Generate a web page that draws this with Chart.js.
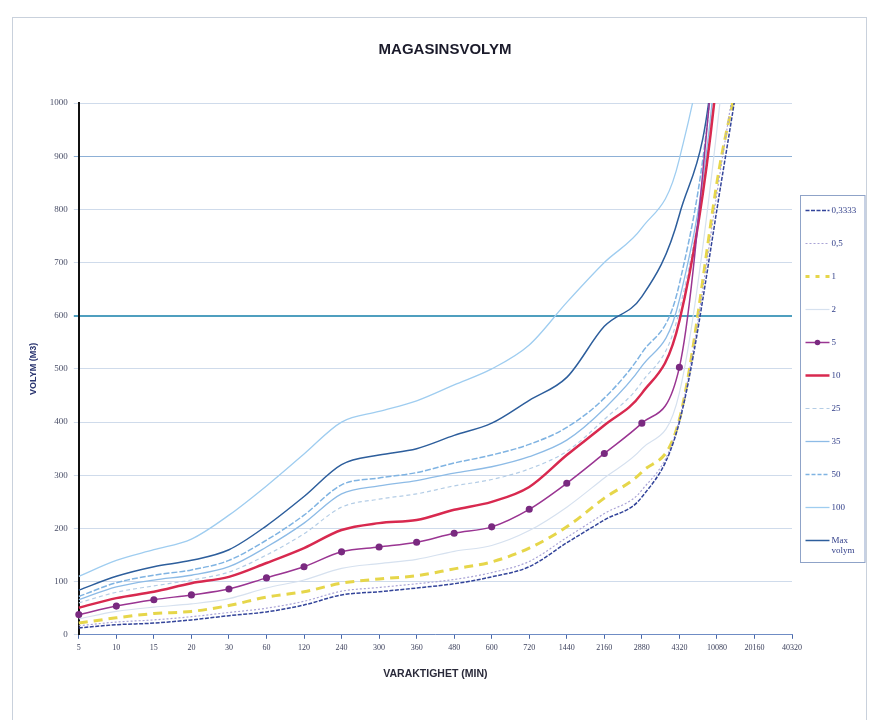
<!DOCTYPE html>
<html>
<head>
<meta charset="utf-8">
<script src="https://cdn.jsdelivr.net/npm/chart.js@4.4.1/dist/chart.umd.min.js"></script>
<style>
  html, body { margin: 0; padding: 0; background: #ffffff; }
  canvas { display: block; }
</style>
</head>
<body>
<canvas id="chart" width="872" height="720"></canvas>
<script>
// Duration categories (minutes)
const durations = ['5','10','15','20','30','60','120','240','300','360','480','600','720','1440','2160','2880','4320','10080','20160','40320'];

// Required storage volume (m3) per return period
const vol_0_3333 = [13,19,22,28,36,43,56,75,81,88,96,109,128,173,216,259,400,800,1300,2200];
const vol_0_5    = [17,24,28,34,42,50,63,82,89,96,104,117,138,183,228,272,405,830,1350,2300];
const vol_1      = [22,32,40,44,55,71,81,97,105,111,124,137,163,203,257,306,405,850,1300,2500];
const vol_2      = [30,44,52,58,68,88,103,125,134,142,157,168,196,240,295,350,455,950,1700,2800];
const vol_5      = [38,54,66,75,86,107,128,156,165,174,191,203,236,285,341,398,503,1150,1900,3000];
const vol_10     = [51,69,81,97,109,135,163,197,210,216,235,250,278,338,394,454,590,1050,2000,3200];
const vol_25     = [60,80,92,103,118,150,190,240,255,265,280,292,312,345,405,475,610,1080,2200,3400];
const vol_35     = [66,90,103,112,128,165,210,265,280,290,304,316,335,366,425,505,630,1100,2300,3500];
const vol_50     = [72,98,112,122,140,178,225,282,295,305,323,338,358,390,445,530,660,1150,2400,3600];
const vol_100    = [110,140,160,180,225,280,340,400,420,440,470,500,545,625,700,765,895,1350,2600,4000];
const vol_max    = [84,110,128,140,160,205,260,320,338,350,375,398,441,484,580,636,790,1150,2500,3800];

const seriesLabels = ['0,3333','0,5','1','2','5','10','25','35','50','100','Max volym'];

function line(label, data, color, width, dash, extra) {
  return Object.assign({
    label: label,
    data: data,
    borderColor: color,
    backgroundColor: color,
    borderWidth: width,
    borderDash: dash,
    pointRadius: 0,
    fill: false,
    cubicInterpolationMode: 'monotone'
  }, extra || {});
}

const datasets = [
  line(seriesLabels[0], vol_0_3333, '#33449a', 1.5, [4, 1.5]),
  line(seriesLabels[1], vol_0_5,    '#a9a3d6', 1.2, [2, 2]),
  line(seriesLabels[2], vol_1,      '#e6d64a', 3,   [9, 6]),
  line(seriesLabels[3], vol_2,      '#d6e1ef', 1.2, []),
  line(seriesLabels[4], vol_5,      '#9a3592', 1.5, [], { pointRadius: 2.8, pointStyle: 'circle', pointBackgroundColor: '#7a2a80', pointBorderColor: '#7a2a80' }),
  line(seriesLabels[5], vol_10,     '#d8294f', 2.5, []),
  line(seriesLabels[6], vol_25,     '#b4cde6', 1.2, [4, 3]),
  line(seriesLabels[7], vol_35,     '#8dbbe6', 1.3, []),
  line(seriesLabels[8], vol_50,     '#7fb3e2', 1.5, [6, 2]),
  line(seriesLabels[9], vol_100,    '#9fcdf0', 1.3, []),
  line(seriesLabels[10], vol_max,   '#2d5e9c', 1.5, [])
];

// White page with a thin outer frame
const framePlugin = {
  id: 'frame',
  beforeDraw(chart) {
    const ctx = chart.ctx;
    ctx.save();
    ctx.fillStyle = '#ffffff';
    ctx.fillRect(0, 0, chart.width, chart.height);
    ctx.strokeStyle = '#c9d1dc';
    ctx.lineWidth = 1;
    ctx.strokeRect(12.5, 17.5, 854, 720);
    ctx.restore();
  }
};

// Boxed legend to the right of the plot, one row per series
const sideLegendPlugin = {
  id: 'sideLegend',
  afterDraw(chart) {
    const ctx = chart.ctx;
    const area = chart.chartArea;
    const boxLeft = Math.round(area.right) + 8.5;
    const boxTop = 195.5;
    const rowGap = 33;
    const firstRow = 210;
    ctx.save();
    ctx.strokeStyle = '#8fa3c8';
    ctx.lineWidth = 1;
    ctx.strokeRect(boxLeft, boxTop, 865 - boxLeft, 367);
    ctx.font = '9px "Liberation Serif"';
    ctx.textBaseline = 'middle';
    ctx.fillStyle = '#33408a';
    chart.data.datasets.forEach((ds, i) => {
      const y = Math.round(firstRow + i * rowGap) + 0.5;
      const x0 = boxLeft + 5, x1 = boxLeft + 29;
      ctx.save();
      ctx.strokeStyle = ds.borderColor;
      ctx.lineWidth = ds.borderWidth;
      ctx.setLineDash(ds.borderDash && ds.borderDash.length ? [Math.min(ds.borderDash[0], 4), ds.borderDash[1]] : []);
      ctx.beginPath();
      ctx.moveTo(x0, y);
      ctx.lineTo(x1, y);
      ctx.stroke();
      if (ds.pointRadius > 0) {
        ctx.setLineDash([]);
        ctx.fillStyle = ds.pointBackgroundColor;
        ctx.beginPath();
        ctx.arc((x0 + x1) / 2, y, ds.pointRadius, 0, Math.PI * 2);
        ctx.fill();
      }
      ctx.restore();
      const parts = String(ds.label).split(' ');
      if (parts.length > 1) {
        ctx.fillText(parts[0], x1 + 2, y);
        ctx.fillText(parts.slice(1).join(' '), x1 + 2, y + 10);
      } else {
        ctx.fillText(ds.label, x1 + 2, y);
      }
    });
    ctx.restore();
  }
};

new Chart(document.getElementById('chart'), {
  type: 'line',
  data: { labels: durations, datasets: datasets },
  plugins: [framePlugin, sideLegendPlugin],
  options: {
    responsive: false,
    animation: false,
    layout: { padding: { left: 24, right: 6, top: 41, bottom: 36 } },
    plugins: {
      title: {
        display: true,
        text: 'MAGASINSVOLYM',
        color: '#1a1a2a',
        font: { family: 'Liberation Sans', size: 15, weight: 'bold' },
        padding: { top: 0, bottom: 44 }
      },
      legend: { display: false },
      tooltip: { enabled: false }
    },
    scales: {
      x: {
        type: 'category',
        offset: false,
        title: {
          display: true,
          text: 'VARAKTIGHET (MIN)',
          color: '#2a2a3a',
          font: { family: 'Liberation Sans', size: 10.5, weight: 'bold' },
          padding: { top: 11 }
        },
        ticks: {
          autoSkip: false,
          maxRotation: 0,
          color: '#3a3f5a',
          font: { family: 'Liberation Serif', size: 8 },
          padding: 4
        },
        grid: {
          drawOnChartArea: false,
          drawTicks: true,
          tickLength: 4,
          color: '#4a67a8'
        },
        border: { color: '#6f8cc4', width: 1, dash: [4, 2] }
      },
      y: {
        min: 0,
        max: 1000,
        title: {
          display: true,
          text: 'VOLYM (M3)',
          color: '#2a3570',
          font: { family: 'Liberation Sans', size: 9, weight: 'bold' },
          padding: { bottom: 5 }
        },
        ticks: {
          stepSize: 100,
          color: '#4a4f68',
          font: { family: 'Liberation Serif', size: 9 },
          padding: 6,
          callback: (v) => String(v)
        },
        grid: {
          drawTicks: true,
          tickLength: 5,
          color: (c) => c.tick && c.tick.value === 600 ? '#4f9fbf' : (c.tick && c.tick.value === 900 ? '#8db0d6' : '#cfdbeb'),
          lineWidth: (c) => c.tick && c.tick.value === 600 ? 2 : 1
        },
        border: { color: '#111111', width: 2 }
      },
      // Empty right-hand band that holds the series key
      keyBand: {
        position: 'right',
        display: true,
        ticks: { display: false },
        grid: { display: false },
        border: { display: false },
        afterFit: (scale) => { scale.width = 74; }
      }
    }
  }
});
</script>
</body>
</html>
